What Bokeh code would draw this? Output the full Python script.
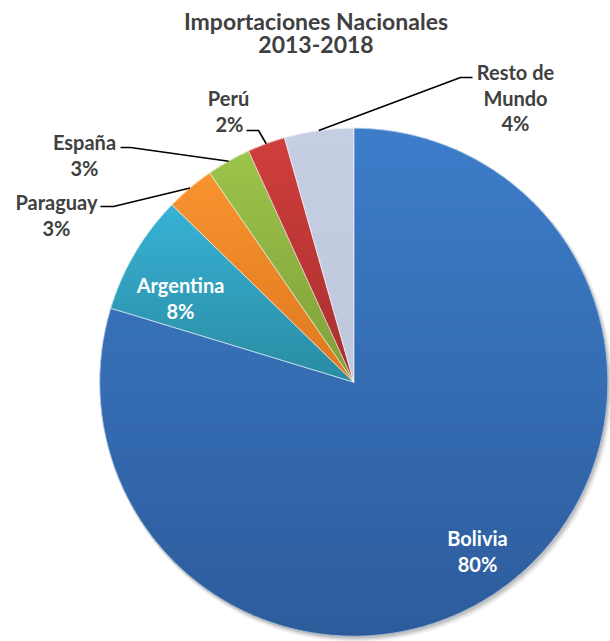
import numpy as np
from bokeh.plotting import figure
from bokeh.models import Range1d
from bokeh.core.properties import value
from bokeh.embed import file_html
from bokeh.resources import INLINE

# ---------------- data ----------------
title_lines = ["Importaciones Nacionales", "2013-2018"]
countries = ["Bolivia", "Argentina", "Paraguay", "España", "Perú", "Resto de Mundo"]
shares = [79.7, 7.6, 3.1, 2.8, 2.4, 4.4]
label_names = [["Bolivia"], ["Argentina"], ["Paraguay"], ["España"], ["Perú"], ["Resto de", "Mundo"]]

# ---------------- style ----------------
top_colors = ["#3d7dca", "#38b2d6", "#f8942f", "#9dc44b", "#d03f3c", "#c5cee3"]
bottom_colors = ["#2d5c9c", "#2a8ca2", "#de7820", "#7f9f38", "#a82f2f", "#bfc8dc"]
label_colors = ["white", "white", "#404040", "#404040", "#404040", "#404040"]
FONT = "Lato"

W, H = 610, 641


def px(ix, iy):
    """convert picture pixel position to data coords (1 unit = 1 px)"""
    return ix, H - iy


cx, cy = px(353.3, 381.7)
R = 254.0

# label layout (picture pixels): line centres, leader elbow + end
label_pos = {
    "Bolivia": [(477, 537), (477, 563)],
    "Argentina": [(180, 284), (180, 310)],
    "Paraguay": [(56, 201), (56, 227)],
    "España": [(84, 141), (84, 167)],
    "Perú": [(228, 97), (229, 123)],
    "Resto de Mundo": [(515, 71), (515, 97), (515, 122)],
}
leaders = {
    "Paraguay": [(113, 206), (100, 206)],
    "España": [(130, 147), (120, 147)],
    "Perú": [(258, 130), (246, 130)],
    "Resto de Mundo": [(460, 77), (472, 77)],
}

p = figure(width=W, height=H, x_range=Range1d(0, W), y_range=Range1d(0, H),
           output_backend="svg", toolbar_location=None, min_border=0)
p.axis.visible = False
p.grid.visible = False
p.outline_line_color = None
p.background_fill_color = "white"

fr = np.array(shares) / sum(shares)
cum = np.concatenate([[0.0], np.cumsum(fr)])
a_start = np.pi / 2 - 2 * np.pi * cum[:-1]
a_end = np.pi / 2 - 2 * np.pi * cum[1:]
a_mid = (a_start + a_end) / 2

# soft shadow
for k, al in enumerate([0.10, 0.07, 0.05, 0.03]):
    p.circle(x=cx + 1.5 + k * 0.5, y=cy - 2.5 - k * 0.5, radius=R + k * 0.8,
             fill_color="#000000", fill_alpha=al, line_color=None)


def hex2rgb(h):
    h = h.lstrip("#")
    return np.array([int(h[i:i + 2], 16) for i in (0, 2, 4)], dtype=float)


def rgb2hex(c):
    return "#%02x%02x%02x" % tuple(int(round(v)) for v in c)


def clip(poly, y0, above):
    out = []
    n = len(poly)
    for i in range(n):
        P, Q = poly[i], poly[(i + 1) % n]
        pin = P[1] >= y0 if above else P[1] <= y0
        qin = Q[1] >= y0 if above else Q[1] <= y0
        if pin:
            out.append(P)
        if pin != qin:
            t = (y0 - P[1]) / (Q[1] - P[1])
            out.append((P[0] + t * (Q[0] - P[0]), y0))
    return out


xs_all, ys_all, cols_all = [], [], []
NB = 48
for i in range(len(shares)):
    n = max(10, int(abs(a_start[i] - a_end[i]) * 180 / np.pi))
    ang = np.linspace(a_start[i], a_end[i], n)
    poly = [(cx, cy)] + [(cx + R * np.cos(a), cy + R * np.sin(a)) for a in ang]
    ymax = max(q[1] for q in poly)
    ymin = min(q[1] for q in poly)
    h = (ymax - ymin) / NB
    c0, c1 = hex2rgb(top_colors[i]), hex2rgb(bottom_colors[i])
    for k in range(NB):
        y_hi = ymax - k * h
        y_lo = ymax - (k + 1) * h - 0.6
        band = clip(clip(poly, y_hi, False), y_lo, True)
        if len(band) < 3:
            continue
        t = (k + 0.5) / NB
        xs_all.append([q[0] for q in band])
        ys_all.append([q[1] for q in band])
        cols_all.append(rgb2hex(c0 + (c1 - c0) * t))

p.patches(xs=xs_all, ys=ys_all, fill_color=cols_all, line_color=cols_all, line_width=0.4)

# slice borders
p.wedge(x=cx, y=cy, radius=R, start_angle=list(a_end), end_angle=list(a_start),
        fill_color=None, line_color="white", line_alpha=0.45, line_width=1)

# leader lines
for name, pts in leaders.items():
    i = countries.index(name)
    ex, ey = cx + R * np.cos(a_mid[i]), cy + R * np.sin(a_mid[i])
    lx = [ex] + [px(*q)[0] for q in pts]
    ly = [ey] + [px(*q)[1] for q in pts]
    p.line(lx, ly, line_color="black", line_width=1.6)

# labels
for i, name in enumerate(countries):
    pct = "%d%%" % round(fr[i] * 100)
    lines = label_names[i] + [pct]
    for txt, pos in zip(lines, label_pos[name]):
        x, y = px(*pos)
        p.text(x=[x], y=[y], text=[txt], text_align="center", text_baseline="middle",
               text_font=value(FONT), text_font_style="bold", text_font_size="20px",
               text_color=label_colors[i])

# title
for txt, iy in zip(title_lines, [20, 44]):
    x, y = px(315.5, iy)
    p.text(x=[x], y=[y], text=[txt], text_align="center", text_baseline="middle",
           text_font=value(FONT), text_font_style="bold", text_font_size="23px",
           text_color="#404040")

open("out.html", "w").write(file_html(p, INLINE))
